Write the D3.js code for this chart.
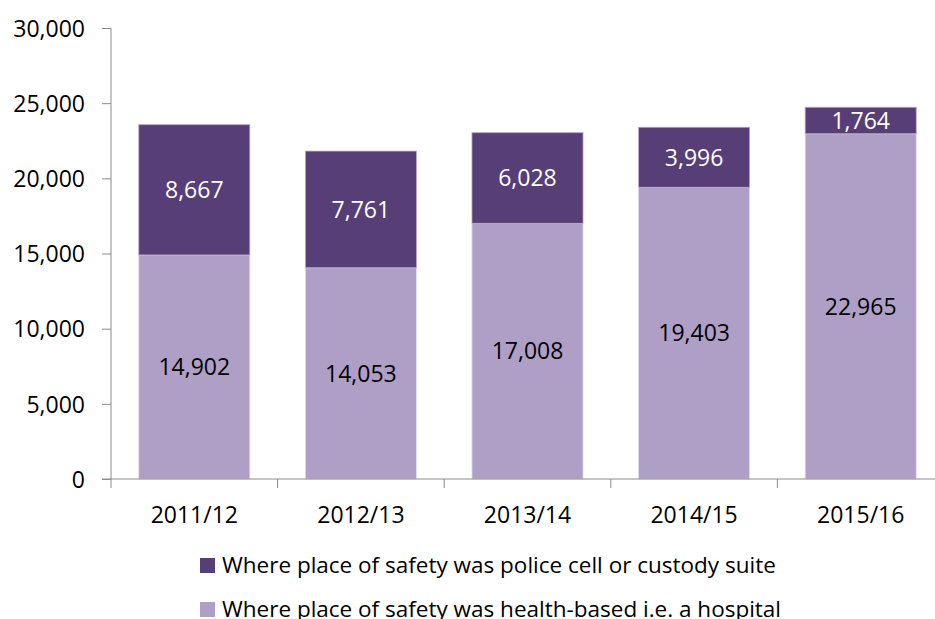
<!DOCTYPE html>
<html>
<head>
<meta charset="utf-8">
<script src="https://cdn.jsdelivr.net/npm/d3@7"></script>
<style>
  body { margin: 0; background: #fff; }
  .chart text { font-family: "Open Sans", sans-serif; fill: #000; }
  .axis path, .axis line { stroke: #8c8c8c; }
</style>
</head>
<body>
<script>
// chart data
var years = ["2011/12", "2012/13", "2013/14", "2014/15", "2015/16"];
var hospital = [14902, 14053, 17008, 19403, 22965];
var police = [8667, 7761, 6028, 3996, 1764];
var yTicks = [0, 5000, 10000, 15000, 20000, 25000, 30000];
var seriesNames = ["Where place of safety was police cell or custody suite",
                   "Where place of safety was health-based i.e. a hospital"];

var width = 935, height = 619;
var margin = {top: 28, left: 111, bottom: 140};
var darkCol = "#573e76", lightCol = "#af9fc7";

var svg = d3.select("body").append("svg")
    .attr("class", "chart")
    .attr("width", width)
    .attr("height", height);

var y = d3.scaleLinear().domain([0, 30000]).range([height - margin.bottom, margin.top]);
var x = d3.scaleBand().domain(years).range([margin.left, 944])
    .paddingInner(1 / 3).paddingOuter(1 / 6);

var fmt = d3.format(",");

// y axis
var yAxis = svg.append("g")
    .attr("class", "axis")
    .attr("transform", "translate(" + margin.left + ",0)")
    .call(d3.axisLeft(y).tickValues(yTicks).tickSize(9).tickPadding(17).tickFormat(fmt));
yAxis.select(".domain").attr("d", "M0," + y(30000) + "V" + y(0));
yAxis.selectAll("text").style("font-size", "23px").attr("dy", "0.36em");

// bars, stacked
var rows = years.map(function(d, i) { return {year: d, h: hospital[i], p: police[i]}; });

var g = svg.selectAll(".bar").data(rows).enter().append("g").attr("class", "bar");

g.append("rect")
    .attr("x", function(d) { return x(d.year); })
    .attr("width", x.bandwidth())
    .attr("y", function(d) { return y(d.h); })
    .attr("height", function(d) { return y(0) - y(d.h); })
    .attr("fill", lightCol)
    .attr("stroke", "#e4dcef").attr("stroke-width", 0.8);

g.append("rect")
    .attr("x", function(d) { return x(d.year); })
    .attr("width", x.bandwidth())
    .attr("y", function(d) { return y(d.h + d.p); })
    .attr("height", function(d) { return y(d.h) - y(d.h + d.p); })
    .attr("fill", darkCol)
    .attr("stroke", "#b8a9cc").attr("stroke-width", 0.8);

g.append("text")
    .attr("x", function(d) { return x(d.year) + x.bandwidth() / 2; })
    .attr("y", function(d) { return y(d.h / 2); })
    .attr("dy", "0.36em")
    .attr("text-anchor", "middle")
    .style("font-size", "23px")
    .text(function(d) { return fmt(d.h); });

g.append("text")
    .attr("x", function(d) { return x(d.year) + x.bandwidth() / 2; })
    .attr("y", function(d) { return y(d.h + d.p / 2); })
    .attr("dy", "0.36em")
    .attr("text-anchor", "middle")
    .style("font-size", "23px")
    .style("fill", "#fff")
    .text(function(d) { return fmt(d.p); });

// x axis
var xAxis = svg.append("g")
    .attr("class", "axis")
    .attr("transform", "translate(0," + y(0) + ")")
    .call(d3.axisBottom(x).tickSize(0).tickPadding(28));
xAxis.select(".domain").attr("d", "M" + (margin.left - 9) + ",0H" + width);
xAxis.selectAll("text").style("font-size", "23px");

// ticks between the categories
var bounds = years.map(function(d) { return x(d) - x.step() * x.paddingInner() / 2; });
bounds.push(x(years[4]) + x.bandwidth() + x.step() * x.paddingInner() / 2);
xAxis.selectAll(".sep").data(bounds)
  .enter().append("line")
    .attr("class", "sep")
    .attr("x1", function(d) { return d; }).attr("x2", function(d) { return d; })
    .attr("y1", 0).attr("y2", 9);

// legend
var legend = svg.selectAll(".legend").data(seriesNames).enter().append("g")
    .attr("class", "legend")
    .attr("transform", function(d, i) { return "translate(200," + (558 + i * 44) + ")"; });

legend.append("rect")
    .attr("width", 15).attr("height", 15)
    .attr("fill", function(d, i) { return i === 0 ? darkCol : lightCol; });

legend.append("text")
    .attr("x", 22).attr("y", 15)
    .style("font-size", "22.5px")
    .text(function(d) { return d; });
</script>
</body>
</html>
